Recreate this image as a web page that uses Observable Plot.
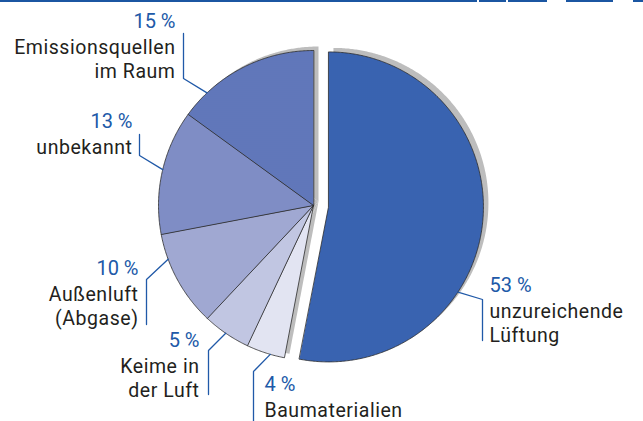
<!DOCTYPE html>
<html><head><meta charset="utf-8">
<script src="https://cdn.jsdelivr.net/npm/d3@7"></script>
<script src="https://cdn.jsdelivr.net/npm/@observablehq/plot@0.6"></script>
<style>
html,body{margin:0;padding:0;background:#fff;}
#wrap{position:relative;width:643px;height:421px;overflow:hidden;}
#wrap svg{display:block;}
#topline{position:absolute;left:0;top:0;width:643px;height:2px;z-index:2;
background:linear-gradient(to right,#1b56a2 0 477px,transparent 477px 479px,#1b56a2 479px 506px,transparent 506px 508px,#1b56a2 508px 547px,transparent 547px 566px,#1b56a2 566px 613px,transparent 613px 633px,#1b56a2 633px 643px);}
.names text{letter-spacing:0.55px;}
</style></head><body>
<svg width="0" height="0" style="position:absolute">
<defs>
<pattern id="p0" width="2" height="2" patternUnits="userSpaceOnUse"><rect width="2" height="2" fill="#2452a4"/><rect width="1" height="1" fill="#7896d6"/></pattern>
<pattern id="p1" width="2" height="2" patternUnits="userSpaceOnUse"><rect width="2" height="2" fill="#d8dbee"/><rect width="1" height="1" fill="#ffffff"/></pattern>
<pattern id="p2" width="2" height="2" patternUnits="userSpaceOnUse"><rect width="2" height="2" fill="#b3b8da"/><rect width="1" height="1" fill="#eceef9"/></pattern>
<pattern id="p3" width="2" height="2" patternUnits="userSpaceOnUse"><rect width="2" height="2" fill="#9098c8"/><rect width="1" height="1" fill="#d0d6f0"/></pattern>
<pattern id="p4" width="2" height="2" patternUnits="userSpaceOnUse"><rect width="2" height="2" fill="#6d7cba"/><rect width="1" height="1" fill="#b3bfe6"/></pattern>
<pattern id="p5" width="2" height="2" patternUnits="userSpaceOnUse"><rect width="2" height="2" fill="#4f67af"/><rect width="1" height="1" fill="#95a8dc"/></pattern>
</defs></svg>
<div id="wrap"><div id="topline"></div></div>
<script>
// ---- data ----
const categories = ["unzureichende\nLüftung", "Baumaterialien", "Keime in\nder Luft", "Außenluft\n(Abgase)", "unbekannt", "Emissionsquellen\nim Raum"];
const values = [53, 4, 5, 10, 13, 15];

// ---- styling / layout ----
const sliceFills = ["url(#p0)", "url(#p1)", "url(#p2)", "url(#p3)", "url(#p4)", "url(#p5)"];
const explode = [15, 0, 0, 0, 0, 0];
const pie = {cx: 313, cy: 205, r: 155};
const labelX = [489, 264, 199, 138, 132, 175];
const labelSide = ["start", "start", "end", "end", "end", "end"];
const labelBaseline = [315, 414, 370, 298, 151, 51];
const leaderAngle = [123.3, 196.2, 214.5, 249.7, 283.4, 316.6];
const leaderElbowX = [482, 253, 208, 146, 139, 183];
const leaderElbowY = [299, 371, 350, 279, 155, 78];
const leaderEndY = [340, 421, 394, 324, 134, 33];
const lineStep = 23.5, pctGap = 24;
const nameSize = 19.5, pctSize = 20;
const blue = "#2059a8";

const total = d3.sum(values);
const rad = d => d * Math.PI / 180;
const pt = (cx, cy, r, deg) => [cx + r * Math.sin(rad(deg)), cy - r * Math.cos(rad(deg))];

let acc = 0;
const slices = categories.map((c, i) => {
  const a0 = acc / total * 360; acc += values[i];
  const a1 = acc / total * 360;
  const mid = (a0 + a1) / 2;
  const [ox, oy] = pt(0, 0, explode[i], mid);
  return {c, v: values[i], i, a0, a1, cx: pie.cx + ox, cy: pie.cy + oy};
});

const poly = [];
for (const s of slices) {
  poly.push({c: s.c, x: s.cx, y: s.cy});
  const n = Math.max(2, Math.ceil((s.a1 - s.a0) / 0.5));
  for (let k = 0; k <= n; k++) {
    const [x, y] = pt(s.cx, s.cy, pie.r, s.a0 + (s.a1 - s.a0) * k / n);
    poly.push({c: s.c, x, y});
  }
}

const leaders = [];
for (const s of slices) {
  const [x, y] = pt(s.cx, s.cy, pie.r, leaderAngle[s.i]);
  leaders.push({c: s.c, x, y});
  leaders.push({c: s.c, x: leaderElbowX[s.i], y: leaderElbowY[s.i]});
  leaders.push({c: s.c, x: leaderElbowX[s.i], y: leaderEndY[s.i]});
}

const pctRows = slices.map(s => ({text: `${s.v} %`, x: labelX[s.i], y: labelBaseline[s.i] - pctGap, side: labelSide[s.i]}));
const nameRows = slices.map(s => ({text: s.c, x: labelX[s.i], y: labelBaseline[s.i], side: labelSide[s.i]}));

const font = "Roboto, 'Liberation Sans', sans-serif";
const chart = Plot.plot({
  width: 643, height: 421,
  margin: 0,
  x: {domain: [0, 643], range: [0, 643], axis: null},
  y: {domain: [0, 421], range: [0, 421], axis: null},
  color: {domain: categories, range: sliceFills},
  style: {background: "#fff", overflow: "visible"},
  marks: [
    Plot.line(poly, {x: "x", y: "y", z: "c", fill: "#bdbdbd", stroke: "none", dx: 5, dy: -4, curve: "linear-closed"}),
    Plot.line(poly, {x: "x", y: "y", z: "c", fill: "c", stroke: "#2b2b2b", strokeWidth: 0.8, strokeLinejoin: "round", curve: "linear-closed"}),
    Plot.line(leaders, {x: "x", y: "y", z: "c", stroke: blue, strokeWidth: 1.3}),
    ...["start", "end"].map(side => Plot.text(pctRows.filter(d => d.side === side), {x: "x", y: "y", text: "text", textAnchor: side, lineAnchor: "bottom", fontSize: pctSize, fontFamily: font, fill: blue})),
    ...["start", "end"].map(side => Plot.text(nameRows.filter(d => d.side === side), {x: "x", y: "y", text: "text", textAnchor: side, lineAnchor: "top", lineHeight: lineStep / nameSize, dy: -0.71 * nameSize, fontSize: nameSize, fontFamily: font, fill: "#231f20", className: "names"}))
  ]
});
document.getElementById("wrap").appendChild(chart);
</script>
</body></html>
